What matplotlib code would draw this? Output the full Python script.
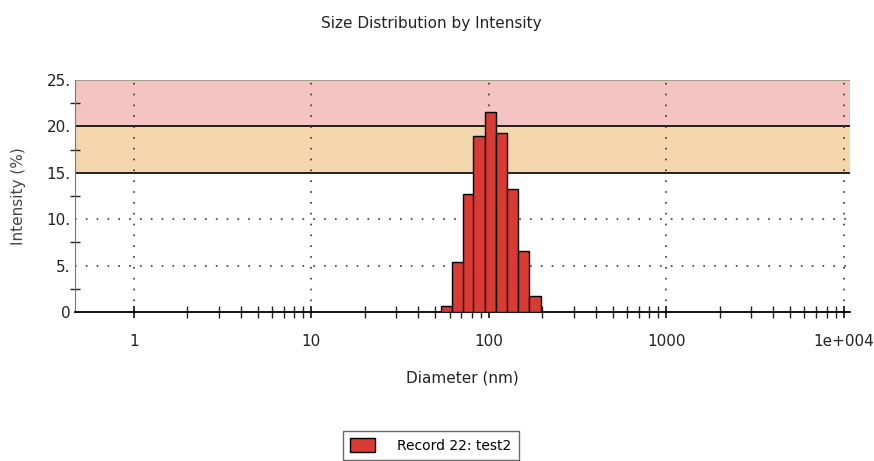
import numpy as np
import matplotlib
matplotlib.use("Agg")
import matplotlib.pyplot as plt
from matplotlib.ticker import FixedLocator, NullFormatter

plt.rcParams['font.family'] = ['DejaVu Sans']

# size classes (nm) and intensity (%)
diameters = [58, 67, 77, 88, 102, 118, 136, 157, 182]
intensity = [0.6, 5.4, 12.7, 19.0, 21.6, 19.3, 13.3, 6.6, 1.7]
log_bin = 0.063  # bin width in log10 units

y_ticks = [0, 5, 10, 15, 20, 25]
y_labels = ['0', '5.', '10.', '15.', '20.', '25.']
x_ticks = [1, 10, 100, 1000, 10000]
x_labels = ['1', '10', '100', '1000', '1e+004']
legend_label = 'Record 22: test2'

fig = plt.figure(figsize=(8.74, 4.61), dpi=100)
ax = fig.add_axes([0.0858, 0.3232, 0.8867, 0.5033])

# coloured bands
ax.axhspan(15, 20, color='#f4d6ac', zorder=0, lw=0)
ax.axhspan(20, 25, color='#f3c4c2', zorder=0, lw=0)
for y, c in [(15, 'black'), (20, 'black'), (25, '#9a948c')]:
    ax.axhline(y, color=c, lw=1.2, zorder=1)

# dotted grid
for y in [5, 10]:
    ax.axhline(y, color='#333355', lw=1.2, ls=(0, (1, 5.5)), zorder=1)
for x in x_ticks:
    ax.axvline(x, color='#333333', lw=1.2, ls=(0, (1, 5.5)), zorder=1)

d = np.array(diameters, dtype=float)
left = d / 10 ** (log_bin / 2)
right = d * 10 ** (log_bin / 2)
ax.bar(left, intensity, width=right - left, align='edge',
       color='#d83a34', edgecolor='black', linewidth=1.0, zorder=3,
       label=legend_label)

ax.set_xscale('log')
ax.set_xlim(0.465, 10 ** 4.035)
ax.set_ylim(0, 25)

ax.xaxis.set_major_locator(FixedLocator(x_ticks))
ax.set_xticklabels(x_labels)
minor = [m * 10.0 ** e for e in range(0, 4) for m in range(2, 10)]
ax.xaxis.set_minor_locator(FixedLocator(minor))
ax.xaxis.set_minor_formatter(NullFormatter())
ax.set_yticks(y_ticks)
ax.set_yticklabels(y_labels)
ax.yaxis.set_minor_locator(FixedLocator([2.5, 7.5, 12.5, 17.5, 22.5]))

ax.tick_params(axis='both', which='both', direction='inout', labelsize=11,
               colors='#222222')
ax.tick_params(axis='x', which='major', length=9, width=1.3, pad=11)
ax.tick_params(axis='x', which='minor', length=8, width=1.0)
ax.tick_params(axis='y', which='major', length=0, pad=3)
ax.tick_params(axis='y', which='minor', length=7, width=1.0)

for s in ['top', 'right']:
    ax.spines[s].set_visible(False)
ax.spines['bottom'].set_linewidth(1.3)
ax.spines['left'].set_color('#777777')

ax.set_xlabel('Diameter (nm)', fontsize=11, labelpad=16, color='#222222')
ax.set_ylabel('Intensity (%)', fontsize=11, labelpad=15, color='#444444')
fig.text(0.494, 0.950, 'Size Distribution by Intensity', ha='center',
         va='center', fontsize=11, color='#222222')

leg = fig.legend(loc='upper center', bbox_to_anchor=(0.493, 0.066),
                 frameon=True, fancybox=False, edgecolor='#444444',
                 fontsize=10, handlelength=1.8, handleheight=1.1,
                 handletextpad=1.6, borderpad=0.55, borderaxespad=0)
leg.get_frame().set_linewidth(1.0)

fig.savefig('out.png', dpi=100)
